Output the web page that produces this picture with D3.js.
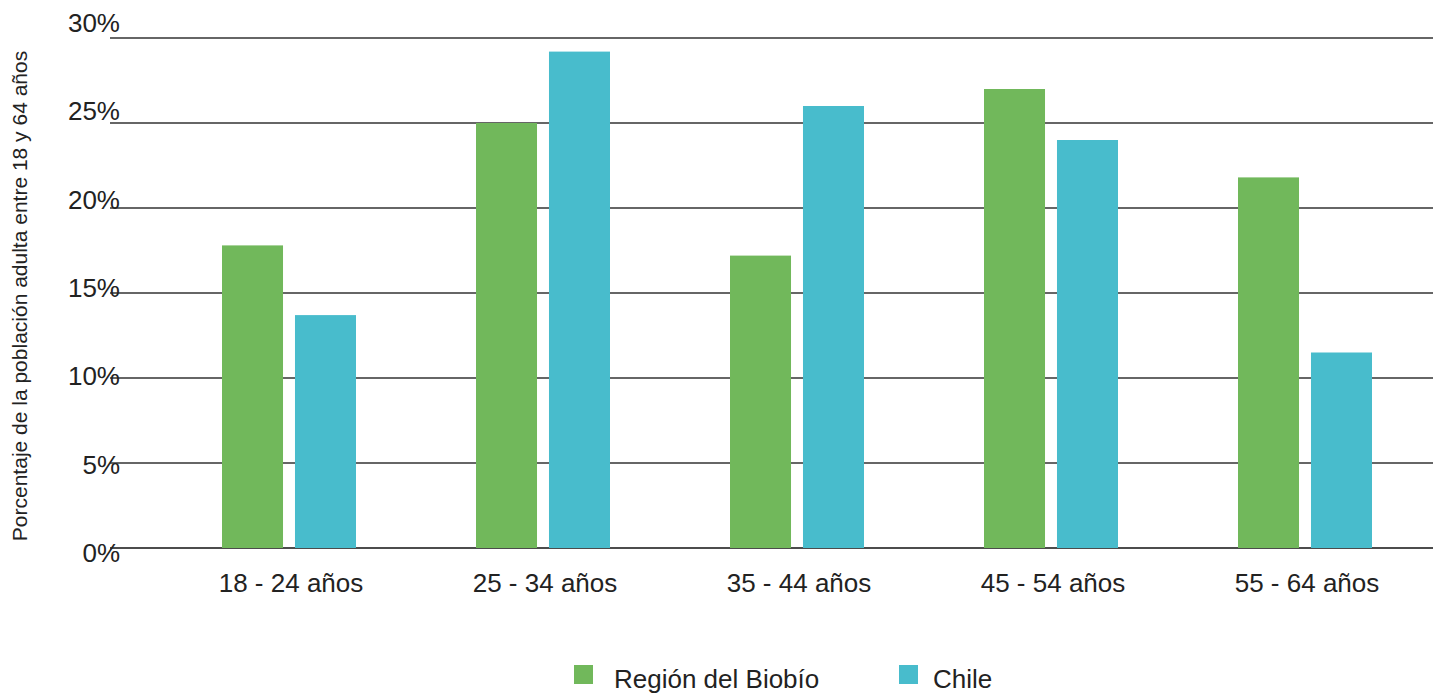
<!DOCTYPE html>
<html><head><meta charset="utf-8">
<script src="https://cdn.jsdelivr.net/npm/d3@7"></script>
<style>
html,body{margin:0;padding:0;background:#fff;}
text{font-family:"Liberation Sans",Arial,sans-serif;fill:#222;}
</style></head>
<body>
<svg id="chart" width="1438" height="694"></svg>
<script>
const categories = ["18 - 24 años","25 - 34 años","35 - 44 años","45 - 54 años","55 - 64 años"];
const seriesNames = ["Región del Biobío","Chile"];
const biobio = [17.8, 25, 17.2, 27, 21.8];
const chile = [13.7, 29.2, 26, 24, 11.5];
const yTicks = [0,5,10,15,20,25,30];
const tickLabels = ["0%","5%","10%","15%","20%","25%","30%"];
const colors = ["#71b85b","#48bccc"];

const svg = d3.select("#chart");
const y = d3.scaleLinear().domain([0,30]).range([548,38]);
const yLab = d3.scaleLinear().domain([0,30]).range([553,23]);
const x0 = d3.scaleBand().domain(categories).range([162,1432]).padding(0);
const bw = x0.bandwidth();
const x1 = d3.scaleBand().domain(seriesNames).range([bw/2-67, bw/2+67]).paddingInner(0.164);

// gridlines
svg.append("g").selectAll("line").data(yTicks).join("line")
  .attr("x1",110).attr("x2",1433)
  .attr("y1",d=>y(d)).attr("y2",d=>y(d))
  .attr("stroke",d=>d===0?"#111":"#333").attr("stroke-width",1.5);

// y labels
svg.append("g").selectAll("text").data(yTicks).join("text")
  .attr("x",120).attr("y",d=>yLab(d)).attr("dy","0.35em")
  .attr("text-anchor","end").style("font-size","26px")
  .text((d,i)=>tickLabels[i]);

// bars
const data = categories.map((c,i)=>({c, vals:[biobio[i], chile[i]]}));
const g = svg.append("g").selectAll("g").data(data).join("g")
  .attr("transform",d=>`translate(${x0(d.c)},0)`);
g.selectAll("rect").data(d=>d.vals.map((v,j)=>({s:seriesNames[j],v,j}))).join("rect")
  .attr("x",d=>x1(d.s)).attr("width",x1.bandwidth())
  .attr("y",d=>y(d.v)).attr("height",d=>y(0)-y(d.v))
  .attr("fill",d=>colors[d.j]);

// x labels
svg.append("g").selectAll("text").data(categories).join("text")
  .attr("x",d=>x0(d)+bw/2+2).attr("y",592)
  .attr("text-anchor","middle").style("font-size","26px").text(d=>d);

// y title
svg.append("text").attr("transform","translate(27,296) rotate(-90)")
  .attr("text-anchor","middle").style("font-size","21px")
  .text("Porcentaje de la población adulta entre 18 y 64 años");

// legend
const legX = [574, 899];
const lg = svg.append("g").selectAll("g").data(seriesNames).join("g")
  .attr("transform",(d,i)=>`translate(${legX[i]},665)`);
lg.append("rect").attr("width",19).attr("height",19).attr("fill",(d,i)=>colors[i]);
lg.append("text").attr("x",(d,i)=>i===0?40:34).attr("y",23).style("font-size","26px").text(d=>d);
</script>
</body></html>
